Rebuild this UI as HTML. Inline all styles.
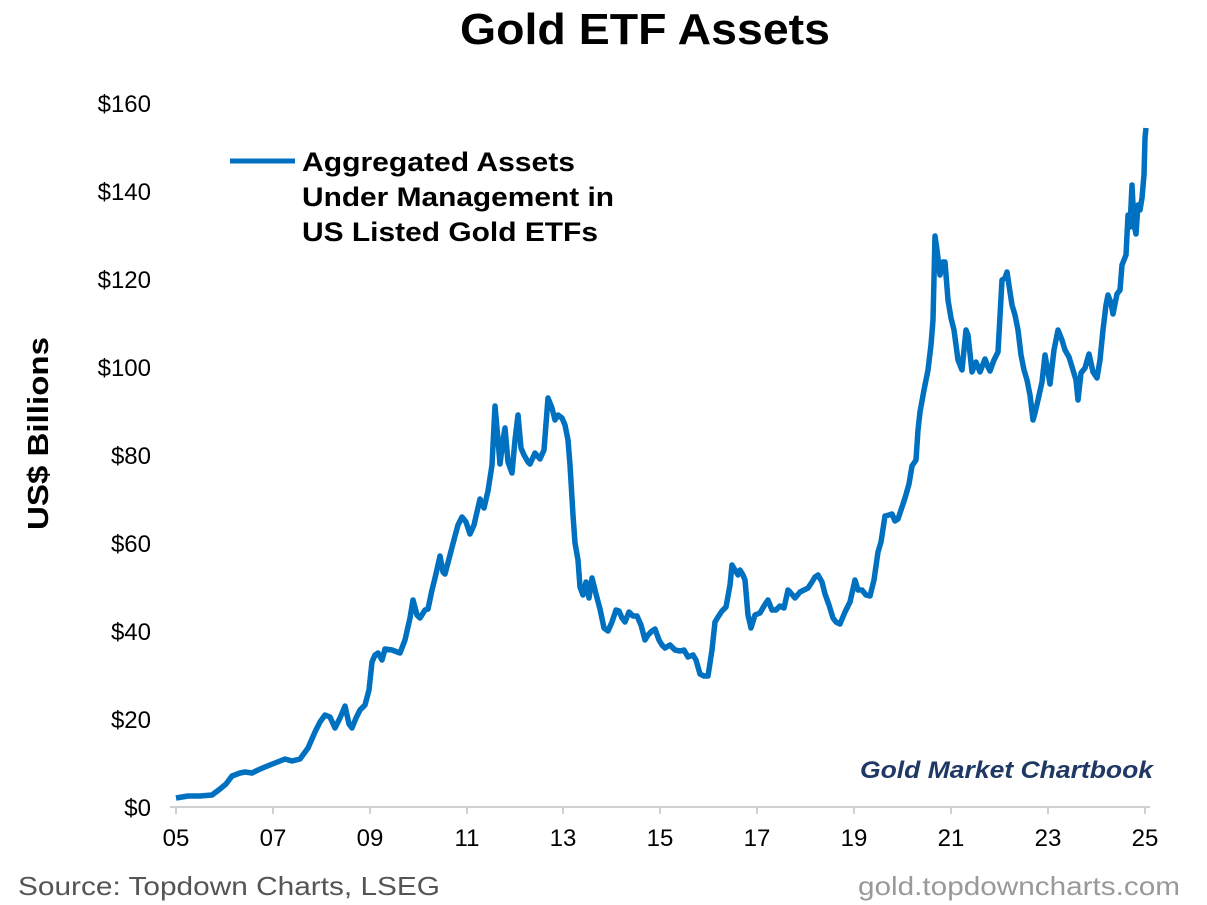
<!DOCTYPE html>
<html><head><meta charset="utf-8"><style>
html,body{margin:0;padding:0;background:#fff;}
svg{display:block;font-family:"Liberation Sans",Arial,sans-serif;}
</style></head><body>
<svg width="1207" height="905" viewBox="0 0 1207 905" xmlns="http://www.w3.org/2000/svg">
<rect width="1207" height="905" fill="#fff"/>
<text x="460" y="44" font-size="44" font-weight="bold" fill="#000" textLength="370" lengthAdjust="spacingAndGlyphs">Gold ETF Assets</text>
<g font-size="24" fill="#000" text-anchor="end">
<text x="151" y="816">$0</text>
<text x="151" y="728">$20</text>
<text x="151" y="640">$40</text>
<text x="151" y="552">$60</text>
<text x="151" y="464">$80</text>
<text x="151" y="376">$100</text>
<text x="151" y="288">$120</text>
<text x="151" y="200">$140</text>
<text x="151" y="112">$160</text>
</g>
<text transform="translate(48,530) rotate(-90)" font-size="29" font-weight="bold" fill="#000" textLength="193" lengthAdjust="spacingAndGlyphs">US$ Billions</text>
<line x1="170" y1="807" x2="1150" y2="807" stroke="#d0d0d0" stroke-width="2"/>
<g stroke="#d0d0d0" stroke-width="2">
<line x1="176" y1="807" x2="176" y2="814"/><line x1="273" y1="807" x2="273" y2="814"/><line x1="370" y1="807" x2="370" y2="814"/><line x1="467" y1="807" x2="467" y2="814"/><line x1="563" y1="807" x2="563" y2="814"/><line x1="660" y1="807" x2="660" y2="814"/><line x1="757" y1="807" x2="757" y2="814"/><line x1="854" y1="807" x2="854" y2="814"/><line x1="951" y1="807" x2="951" y2="814"/><line x1="1048" y1="807" x2="1048" y2="814"/><line x1="1145" y1="807" x2="1145" y2="814"/>
</g>
<g font-size="24" fill="#000" text-anchor="middle">
<text x="176" y="846">05</text><text x="273" y="846">07</text><text x="370" y="846">09</text><text x="467" y="846">11</text><text x="563" y="846">13</text><text x="660" y="846">15</text><text x="757" y="846">17</text><text x="854" y="846">19</text><text x="951" y="846">21</text><text x="1048" y="846">23</text><text x="1145" y="846">25</text>
</g>
<polyline fill="none" stroke="#0070C0" stroke-width="5.5" stroke-linejoin="round" points="
176,798 188,796 200,796 212,795 220,789 226,784 232,776 240,773 245,772 252,773 258,770 265,767 275,763 285,759 292,761 300,759 308,748 315,732 320,722 325,715 330,717 335,728 340,718 345,706 349,724 352,728 356,718 360,710 365,705 369,690 372,662 375,655 378,653 382,660 385,649 392,650 400,653 405,640 410,618 413,600 417,615 420,618 425,610 428,609 432,590 435,578 438,565 440,556 443,572 445,574 450,555 455,536 458,525 462,517 466,522 470,534 474,525 480,499 484,508 488,491 492,465 495,406 498,440 500,464 503,440 505,428 508,462 512,473 515,440 518,415 521,448 524,455 528,462 530,464 535,453 540,459 544,450 548,398 552,408 555,420 558,415 562,418 565,425 568,440 570,465 573,515 575,543 578,560 580,587 583,595 586,582 589,598 592,578 596,594 600,609 604,628 608,631 612,622 616,610 619,611 622,618 625,622 629,612 633,616 637,616 641,625 645,640 648,635 652,631 655,629 659,640 662,645 665,648 670,645 675,650 680,651 684,650 688,657 693,655 696,660 700,674 704,676 708,676 712,650 715,622 718,617 722,611 726,607 730,585 732,565 735,570 738,575 740,570 743,575 745,580 748,615 751,628 755,615 760,613 764,606 768,600 772,610 776,610 780,606 784,608 788,590 790,592 795,598 800,592 804,590 808,588 812,582 815,577 818,575 822,582 825,594 829,605 833,618 836,622 840,624 845,612 850,602 855,580 858,590 862,590 866,595 870,596 874,580 878,552 881,542 885,516 889,515 892,514 895,521 898,519 902,507 905,498 909,484 912,466 916,460 918,430 920,412 924,390 928,370 931,345 933,320 935,236 937,250 940,275 943,262 945,262 948,300 951,318 954,330 958,360 962,370 966,330 968,335 972,372 976,362 980,372 985,359 988,367 990,371 994,360 998,352 1002,280 1005,278 1007,272 1010,292 1012,305 1015,315 1018,330 1021,355 1024,370 1027,380 1030,395 1033,420 1035,413 1038,400 1042,382 1045,355 1048,372 1050,384 1054,350 1058,330 1062,340 1065,350 1069,357 1073,370 1076,380 1078,400 1081,373 1085,368 1089,354 1093,372 1097,378 1100,360 1103,330 1106,305 1108,295 1111,303 1113,314 1117,294 1120,290 1122,265 1126,255 1128,215 1130,227 1132,185 1134,225 1136,234 1138,205 1140,210 1142,198 1144,175 1145,138 1146,128"/>
<line x1="230" y1="161" x2="295" y2="161" stroke="#0070C0" stroke-width="5"/>
<g font-size="27" font-weight="bold" fill="#000">
<text x="302" y="171" textLength="273" lengthAdjust="spacingAndGlyphs">Aggregated Assets</text>
<text x="302" y="206" textLength="312" lengthAdjust="spacingAndGlyphs">Under Management in</text>
<text x="302" y="241" textLength="296" lengthAdjust="spacingAndGlyphs">US Listed Gold ETFs</text>
</g>
<text x="860" y="778" font-size="24" font-weight="bold" font-style="italic" fill="#1F3864" textLength="293" lengthAdjust="spacingAndGlyphs">Gold Market Chartbook</text>
<text x="18" y="895" font-size="26" fill="#555" textLength="422" lengthAdjust="spacingAndGlyphs">Source: Topdown Charts, LSEG</text>
<text x="858" y="895" font-size="26" fill="#999" textLength="322" lengthAdjust="spacingAndGlyphs">gold.topdowncharts.com</text>
</svg>
</body></html>
